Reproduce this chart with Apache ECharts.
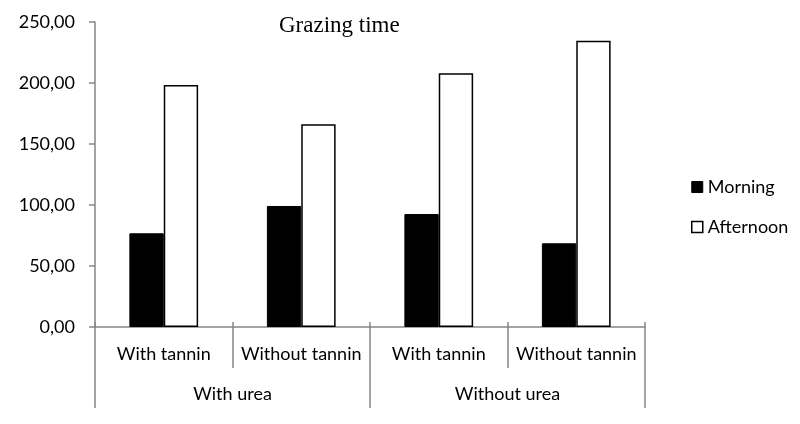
<!DOCTYPE html>
<html>
<head>
<meta charset="utf-8">
<script src="https://cdn.jsdelivr.net/npm/echarts@6/dist/echarts.min.js"></script>
<style>html,body{margin:0;padding:0;background:#fff}#c{width:800px;height:424px}</style>
</head>
<body>
<div id="c"></div>
<script>
const innerCategories = ['With tannin', 'Without tannin', 'With tannin', 'Without tannin'];
const outerCategories = ['With urea', 'Without urea'];
const morning = [76.8, 99.2, 92.6, 68.6];
const afternoon = [198.4, 166.1, 207.9, 234.7];
const yTicks = [0, 50, 100, 150, 200, 250];

const font = 'Lato';
const gray = '#868686';
const chart = echarts.init(document.getElementById('c'));
chart.setOption({
  animation: false,
  title: {
    text: 'Grazing time', left: 274, top: 9,
    textStyle: { fontFamily: 'Liberation Serif', fontSize: 23, fontWeight: 'normal', color: '#000' }
  },
  legend: {
    orient: 'vertical', left: 686, top: 173, itemWidth: 11, itemHeight: 11, itemGap: 22, itemTextGap: 6,
    textStyle: { fontFamily: font, fontSize: 18, color: '#000' },
    data: [
      { name: 'Morning', icon: 'rect', itemStyle: { color: '#000', borderColor: '#000', borderWidth: 1 } },
      { name: 'Afternoon', icon: 'rect', itemStyle: { color: '#fff', borderColor: '#000', borderWidth: 1.5 } }
    ]
  },
  grid: { left: 95, right: 155, top: 22, bottom: 97 },
  yAxis: {
    type: 'value', min: yTicks[0], max: yTicks[yTicks.length - 1], interval: 50,
    axisLine: { show: true, lineStyle: { color: gray, width: 1.5 } },
    axisTick: { show: true, length: 6, lineStyle: { color: gray, width: 1.5 } },
    splitLine: { show: false },
    axisLabel: { margin: 20, fontFamily: font, fontSize: 18, color: '#000',
      formatter: v => v.toFixed(2).replace('.', ',') }
  },
  xAxis: [
    {
      type: 'category', data: innerCategories, position: 'bottom',
      axisLine: { show: true, lineStyle: { color: gray, width: 1.5 } },
      axisTick: { show: true, interval: 0, length: 41, lineStyle: { color: gray, width: 1.5 } },
      axisLabel: { interval: 0, margin: 18, fontFamily: font, fontSize: 18, color: '#000' }
    },
    {
      type: 'category', data: outerCategories, position: 'bottom',
      axisLine: { show: false },
      axisTick: { show: true, interval: 0, length: 81, lineStyle: { color: gray, width: 1.5 } },
      axisLabel: { interval: 0, margin: 58, fontFamily: font, fontSize: 18, color: '#000' }
    },
    {
      type: 'category', data: innerCategories, position: 'bottom',
      axisLine: { show: false },
      axisTick: { show: true, inside: true, interval: 0, length: 5, lineStyle: { color: gray, width: 1.5 } },
      axisLabel: { show: false }
    }
  ],
  series: [
    { name: 'Morning', type: 'bar', xAxisIndex: 0, data: morning, barGap: '0%', barCategoryGap: '50%',
      itemStyle: { color: '#000', borderColor: '#000', borderWidth: 1 } },
    { name: 'Afternoon', type: 'bar', xAxisIndex: 0, data: afternoon,
      itemStyle: { color: '#fff', borderColor: '#000', borderWidth: 1.5 } }
  ]
});
</script>
</body>
</html>
